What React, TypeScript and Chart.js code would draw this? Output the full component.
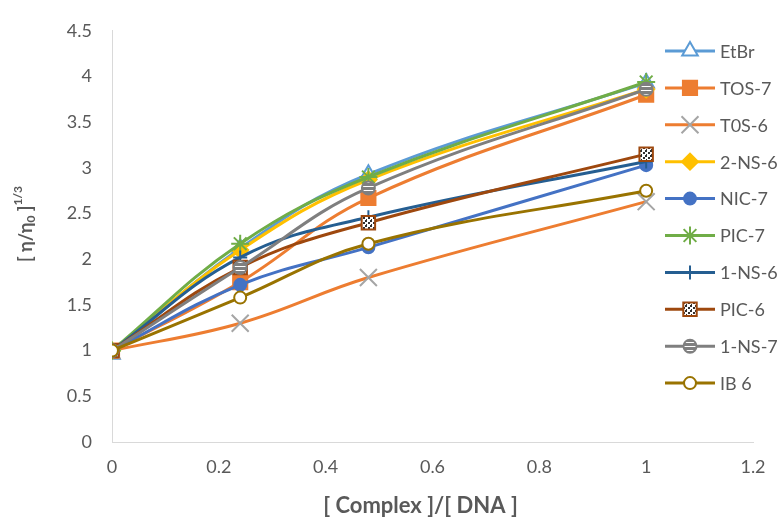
import React, { useEffect, useRef } from 'react';
import { Chart, registerables } from 'chart.js';
import { drawPoint } from 'chart.js/helpers';

Chart.register(...registerables);

// ---- data ----
const ratios = [0, 0.24, 0.48, 1];
const seriesNames = ['EtBr', 'TOS-7', 'T0S-6', '2-NS-6', 'NIC-7', 'PIC-7', '1-NS-6', 'PIC-6', '1-NS-7', 'IB 6'];
const etbr = [0.96, 2.12, 2.93, 3.93];
const tos7 = [1.0, 1.75, 2.67, 3.8];
const tos6 = [1.0, 1.3, 1.8, 2.63];
const ns26 = [1.0, 2.1, 2.87, 3.86];
const nic7 = [1.0, 1.72, 2.13, 3.03];
const pic7 = [1.0, 2.17, 2.9, 3.94];
const ns16 = [1.0, 2.02, 2.46, 3.07];
const pic6 = [1.0, 1.91, 2.4, 3.15];
const ns17 = [1.0, 1.91, 2.78, 3.86];
const ib6 = [1.0, 1.58, 2.17, 2.75];
const seriesValues = [etbr, tos7, tos6, ns26, nic7, pic7, ns16, pic6, ns17, ib6];
const xTickValues = [0, 0.2, 0.4, 0.6, 0.8, 1, 1.2];
const yTickValues = [0, 0.5, 1, 1.5, 2, 2.5, 3, 3.5, 4, 4.5];
const xTitle = '[ Complex ]/[ DNA ]';

const FONT = 'Lato, "Open Sans", sans-serif';
const TEXT = '#595959';

function makeDots(): CanvasPattern | string {
  const c = document.createElement('canvas');
  c.width = 5; c.height = 5;
  const g = c.getContext('2d');
  if (!g) return '#ffffff';
  g.fillStyle = '#ffffff'; g.fillRect(0, 0, 5, 5);
  g.fillStyle = '#303030';
  g.fillRect(0, 0, 2, 2);
  g.fillRect(3, 2, 2, 2);
  g.fillRect(1, 4, 1, 1);
  return g.createPattern(c, 'repeat') || '#ffffff';
}
function makeStripes(): CanvasPattern | string {
  const c = document.createElement('canvas');
  c.width = 4; c.height = 4;
  const g = c.getContext('2d');
  if (!g) return '#7f7f7f';
  g.fillStyle = '#7f7f7f'; g.fillRect(0, 0, 4, 4);
  g.fillStyle = '#ffffff'; g.fillRect(0, 2, 4, 1);
  return g.createPattern(c, 'repeat') || '#7f7f7f';
}

export default function App() {
  const ref = useRef<HTMLCanvasElement>(null);
  useEffect(() => {
    const canvas = ref.current;
    if (!canvas) return;
    const dots = makeDots();
    const stripes = makeStripes();
    const styles: any[] = [
      { line: '#5B9BD5', ps: 'triangle', r: 9, fill: '#FFFFFF', border: '#5B9BD5' },
      { line: '#ED7D31', ps: 'rect', r: 10, fill: '#ED7D31', border: '#ED7D31' },
      { line: '#ED7D31', ps: 'crossRot', r: 12, fill: '#A5A5A5', border: '#A5A5A5' },
      { line: '#FFC000', ps: 'rectRot', r: 8, fill: '#FFC000', border: '#FFC000' },
      { line: '#4472C4', ps: 'circle', r: 6, fill: '#4472C4', border: '#4472C4' },
      { line: '#70AD47', ps: 'star', r: 9, fill: '#70AD47', border: '#70AD47' },
      { line: '#255E91', ps: 'cross', r: 7, fill: '#255E91', border: '#255E91' },
      { line: '#9E480E', ps: 'rect', r: 9.5, fill: dots, border: '#9E480E' },
      { line: '#7F7F7F', ps: 'circle', r: 6.5, fill: stripes, border: '#7F7F7F' },
      { line: '#997300', ps: 'circle', r: 6, fill: '#FFFFFF', border: '#997300' },
    ];
    const n = seriesNames.length;
    const datasets = seriesNames.map((name, i) => ({
      label: name,
      data: ratios.map((x, j) => ({ x, y: seriesValues[i][j] })),
      borderColor: styles[i].line,
      borderWidth: 3,
      tension: 0.4,
      pointStyle: styles[i].ps,
      pointRadius: styles[i].r,
      pointBackgroundColor: styles[i].fill,
      pointBorderColor: styles[i].border,
      pointBorderWidth: 2,
      order: n - i,
      fill: false,
    }));

    const decor = {
      id: 'decor',
      afterDraw(chart: any) {
        const ctx = chart.ctx as CanvasRenderingContext2D;
        const area = chart.chartArea;
        ctx.save();
        ctx.fillStyle = TEXT;
        // x title
        ctx.font = `bold 22px ${FONT}`;
        ctx.textAlign = 'center';
        ctx.textBaseline = 'middle';
        ctx.fillText(xTitle, (area.left + area.right) / 2 - 12, 506);
        // y title with sub/superscript
        ctx.translate(26, 224);
        ctx.rotate(-Math.PI / 2);
        const big = `bold 18px ${FONT}`;
        const small = `bold 12px ${FONT}`;
        const parts: [string, string, number][] = [
          ['[ η/η', big, 0],
          ['0', small, 5],
          [' ]', big, 0],
          ['1/3', small, -8],
        ];
        let total = 0;
        for (const [t, f] of parts) { ctx.font = f; total += ctx.measureText(t).width; }
        let x = -total / 2;
        ctx.textAlign = 'left';
        for (const [t, f, dy] of parts) {
          ctx.font = f;
          ctx.fillText(t, x, dy);
          x += ctx.measureText(t).width;
        }
        ctx.restore();

        // legend
        ctx.save();
        const lx0 = 665, lx1 = 715, tx = 720, y0 = 51, dy = 36.9;
        for (let i = 0; i < n; i++) {
          const y = y0 + i * dy;
          const s = styles[i];
          ctx.strokeStyle = s.line;
          ctx.lineWidth = 3;
          ctx.beginPath();
          ctx.moveTo(lx0, y);
          ctx.lineTo(lx1, y);
          ctx.stroke();
          ctx.fillStyle = s.fill;
          ctx.strokeStyle = s.border;
          ctx.lineWidth = 2;
          drawPoint(ctx, { pointStyle: s.ps, radius: s.r, rotation: 0, borderWidth: 2 } as any, (lx0 + lx1) / 2, y);
          ctx.fillStyle = TEXT;
          ctx.font = `18px ${FONT}`;
          ctx.textAlign = 'left';
          ctx.textBaseline = 'middle';
          ctx.fillText(seriesNames[i], tx, y + 1);
        }
        ctx.restore();
      },
    };

    const chart = new Chart(canvas, {
      type: 'line',
      data: { datasets: datasets as any },
      plugins: [decor],
      options: {
        animation: false,
        responsive: false,
        devicePixelRatio: 1,
        layout: { padding: { left: 0, top: 20, right: 30, bottom: 0 } },
        plugins: { legend: { display: false }, tooltip: { enabled: false } },
        scales: {
          x: {
            type: 'linear',
            min: 0,
            max: 1.2,
            afterBuildTicks(scale: any) { scale.ticks = xTickValues.map((v) => ({ value: v })); },
            afterFit(scale: any) { scale.height = 81; },
            grid: { display: false, drawTicks: false },
            border: { display: true, color: '#D9D9D9', width: 1 },
            ticks: {
              padding: 14,
              color: TEXT,
              font: { family: FONT, size: 18 },
              callback: (v: any) => String(Number(Number(v).toFixed(1))),
            },
          },
          y: {
            type: 'linear',
            min: 0,
            max: 4.5,
            afterBuildTicks(scale: any) { scale.ticks = yTickValues.map((v) => ({ value: v })); },
            afterFit(scale: any) { scale.width = 112; },
            grid: { display: false, drawTicks: false },
            border: { display: true, color: '#D9D9D9', width: 1 },
            ticks: {
              padding: 20,
              color: TEXT,
              font: { family: FONT, size: 18 },
              callback: (v: any) => String(Number(Number(v).toFixed(1))),
            },
          },
        },
      },
    });
    return () => chart.destroy();
  }, []);

  return (
    <div style={{ position: 'absolute', left: 0, top: 0, width: 783, height: 523, background: '#fff' }}>
      <canvas ref={ref} width={783} height={523} style={{ display: 'block', width: 783, height: 523 }} />
    </div>
  );
}
